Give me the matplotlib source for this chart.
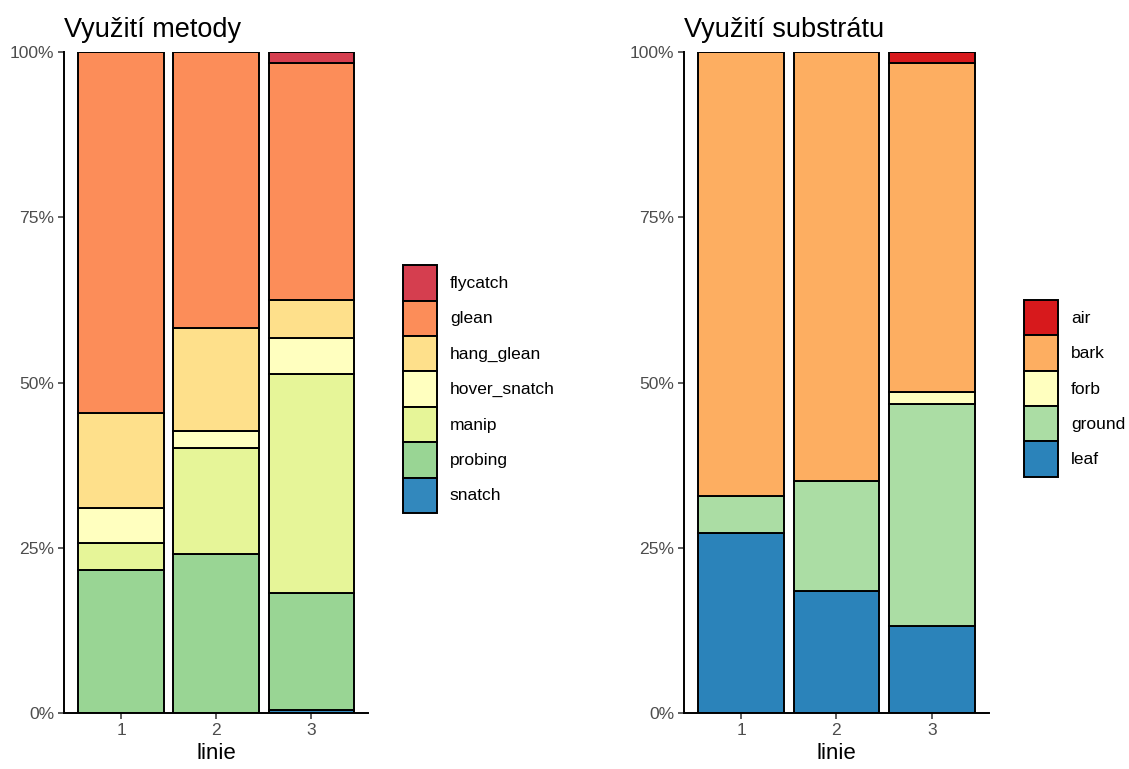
import numpy as np
import matplotlib.pyplot as plt
from matplotlib.patches import Patch
from matplotlib.ticker import PercentFormatter

plt.rcParams['font.family'] = ['Liberation Sans', 'DejaVu Sans']

linie = ["1", "2", "3"]

# Využití metody (podíly, v pořadí od spodu)
metody = ["snatch", "probing", "manip", "hover_snatch", "hang_glean", "glean", "flycatch"]
snatch = [0.0, 0.0, 0.005]
probing = [0.216, 0.241, 0.177]
manip = [0.041, 0.160, 0.331]
hover_snatch = [0.053, 0.026, 0.054]
hang_glean = [0.144, 0.155, 0.058]
glean = [0.546, 0.418, 0.358]
flycatch = [0.0, 0.0, 0.017]
metody_barvy = ["#3288BD", "#99D594", "#E6F598", "#FFFFBF", "#FEE08B", "#FC8D59", "#D53E4F"]

# Využití substrátu
substraty = ["leaf", "ground", "forb", "bark", "air"]
leaf = [0.272, 0.185, 0.132]
ground = [0.056, 0.166, 0.335]
forb = [0.0, 0.0, 0.019]
bark = [0.672, 0.649, 0.497]
air = [0.0, 0.0, 0.017]
substraty_barvy = ["#2B83BA", "#ABDDA4", "#FFFFBF", "#FDAE61", "#D7191C"]


def Panel(ax, serie, nazvy, barvy, titulek):
    x = np.arange(1, len(linie) + 1)
    spodek = np.zeros(len(linie))
    for hodnoty, barva in zip(serie, barvy):
        hodnoty = np.array(hodnoty)
        maska = hodnoty > 0
        ax.bar(x[maska], hodnoty[maska], bottom=spodek[maska], width=0.9,
               color=barva, edgecolor="black", linewidth=1.4)
        spodek += hodnoty
    ax.set_xlim(0.4, 3.6)
    ax.set_ylim(0, 1)
    ax.set_xticks(x)
    ax.set_xticklabels(linie)
    ax.set_yticks([0, 0.25, 0.5, 0.75, 1.0])
    ax.yaxis.set_major_formatter(PercentFormatter(1.0, decimals=0))
    ax.tick_params(color="#333333", labelcolor="#4D4D4D", labelsize=12.6,
                   length=4, width=1.1, pad=3)
    for s in ["top", "right"]:
        ax.spines[s].set_visible(False)
    for s in ["left", "bottom"]:
        ax.spines[s].set_linewidth(1.4)
    ax.set_xlabel("linie", fontsize=16, labelpad=4)
    ax.set_title(titulek, fontsize=19.5, loc="left", x=0.0, pad=11)
    handles = [Patch(facecolor=b, edgecolor="black", linewidth=1.4, label=n)
               for n, b in zip(nazvy, barvy)][::-1]
    return handles


fig = plt.figure(figsize=(11.29, 7.69), dpi=100)
ax1 = fig.add_axes([0.0567, 0.0728, 0.2696, 0.8596])
ax2 = fig.add_axes([0.6058, 0.0728, 0.2701, 0.8596])

h1 = Panel(ax1, [snatch, probing, manip, hover_snatch, hang_glean, glean, flycatch],
           metody, metody_barvy, "Využití metody")
h2 = Panel(ax2, [leaf, ground, forb, bark, air],
           substraty, substraty_barvy, "Využití substrátu")

for h, pos in [(h1, (0.357, 0.494)), (h2, (0.907, 0.495))]:
    fig.legend(handles=h, loc="center left", bbox_to_anchor=pos, frameon=False,
               fontsize=12.5, handlelength=1.95, handleheight=2.76, labelspacing=0.0,
               handletextpad=0.75, borderaxespad=0, borderpad=0)

plt.savefig("out.png", dpi=100)
